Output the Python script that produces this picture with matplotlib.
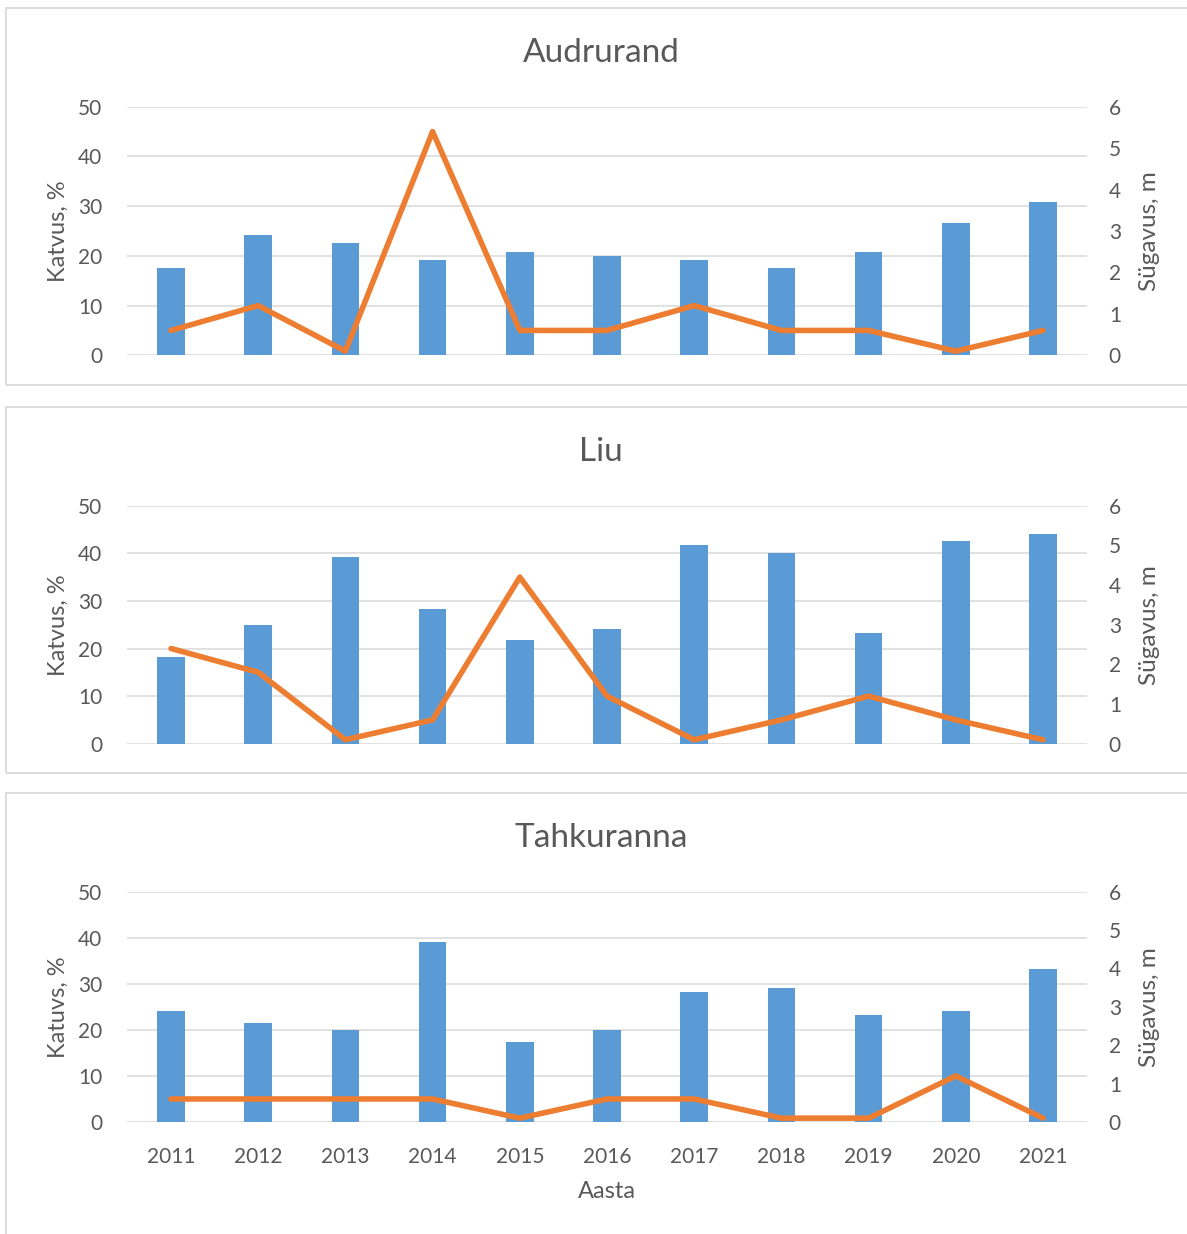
"""Katvus (%) ja sügavus (m) aastate kaupa kolmes uuringualas."""
import matplotlib
matplotlib.use("Agg")
import matplotlib.pyplot as plt
from matplotlib.patches import Rectangle
import numpy as np

plt.rcParams["font.family"] = ["Lato", "DejaVu Sans"]

YEARS = ["2011", "2012", "2013", "2014", "2015", "2016",
         "2017", "2018", "2019", "2020", "2021"]

AUDRURAND_COVER = [17.5, 24.1, 22.5, 19.1, 20.8, 20.0, 19.2, 17.5, 20.8, 26.6, 30.8]
AUDRURAND_DEPTH = [0.6, 1.2, 0.1, 5.4, 0.6, 0.6, 1.2, 0.6, 0.6, 0.1, 0.6]

LIU_COVER = [18.3, 25.0, 39.2, 28.3, 21.7, 24.1, 41.7, 40.0, 23.3, 42.5, 44.1]
LIU_DEPTH = [2.4, 1.8, 0.1, 0.6, 4.2, 1.2, 0.1, 0.6, 1.2, 0.6, 0.1]

TAHKURANNA_COVER = [24.0, 21.6, 19.9, 39.1, 17.4, 19.9, 28.2, 29.1, 23.2, 24.1, 33.2]
TAHKURANNA_DEPTH = [0.6, 0.6, 0.6, 0.6, 0.1, 0.6, 0.6, 0.1, 0.1, 1.2, 0.1]

BAR_COLOR = "#5B9BD5"
LINE_COLOR = "#ED7D31"
GRID_COLOR = "#D9D9D9"
TEXT_COLOR = "#595959"

W, H = 1187, 1234


def fx(px):
    return px / W


def fy(py):
    return 1 - py / H


def draw_panel(fig, cover, depth, title, ylabel, axes_px, frame_px, bottom=False):
    top_px, bot_px = axes_px
    left, right = 127.4, 1086.6
    ax = fig.add_axes([fx(left), fy(bot_px), fx(right - left), (bot_px - top_px) / H])
    x = np.arange(len(YEARS))
    ax.bar(x, cover, width=0.315, color=BAR_COLOR, zorder=2)
    ax.set_xlim(-0.5, len(YEARS) - 0.5)
    ax.set_ylim(0, 50)
    ax.set_yticks(range(0, 51, 10))
    ax.grid(axis="y", color=GRID_COLOR, lw=1.1, zorder=0)
    ax.set_axisbelow(True)
    for s in ax.spines.values():
        s.set_visible(False)
    ax.tick_params(length=0, labelsize=15, labelcolor=TEXT_COLOR, pad=18)
    ax.set_xticks(x)
    if bottom:
        ax.set_xticklabels(YEARS)
    else:
        ax.set_xticklabels([])

    ax2 = ax.twinx()
    ax2.plot(x, depth, color=LINE_COLOR, lw=4.0, solid_joinstyle="round",
             solid_capstyle="round", zorder=3)
    ax2.set_ylim(0, 6)
    ax2.set_yticks(range(0, 7))
    for s in ax2.spines.values():
        s.set_visible(False)
    ax2.tick_params(length=0, labelsize=15, labelcolor=TEXT_COLOR, pad=16)

    mid = (top_px + bot_px) / 2
    fig.text(fx(601), fy(top_px - 54), title, ha="center", va="center",
             fontsize=24, color=TEXT_COLOR)
    fig.text(fx(58), fy(mid), ylabel, rotation=90, ha="center", va="center",
             fontsize=17, color=TEXT_COLOR)
    fig.text(fx(1150), fy(mid), "Sügavus, m", rotation=90, ha="center",
             va="center", fontsize=17.5, color=TEXT_COLOR)

    f_top, f_bot = frame_px
    fig.add_artist(Rectangle((fx(6), fy(f_bot)), 1.1, (f_bot - f_top) / H,
                             transform=fig.transFigure, fill=False,
                             ec=GRID_COLOR, lw=1.3))
    return ax


def main():
    fig = plt.figure(figsize=(W / 100, H / 100), dpi=100)
    draw_panel(fig, AUDRURAND_COVER, AUDRURAND_DEPTH, "Audrurand", "Katvus, %",
               (106.7, 355.3), (8, 385))
    draw_panel(fig, LIU_COVER, LIU_DEPTH, "Liu", "Katvus, %",
               (505.7, 743.7), (407, 773))
    draw_panel(fig, TAHKURANNA_COVER, TAHKURANNA_DEPTH, "Tahkuranna", "Katuvs, %",
               (891.7, 1122.0), (793, 1260), bottom=True)
    fig.text(fx(607), fy(1192), "Aasta", ha="center", va="center",
             fontsize=17, color=TEXT_COLOR)
    fig.savefig("out.png", dpi=100)


if __name__ == "__main__":
    main()
